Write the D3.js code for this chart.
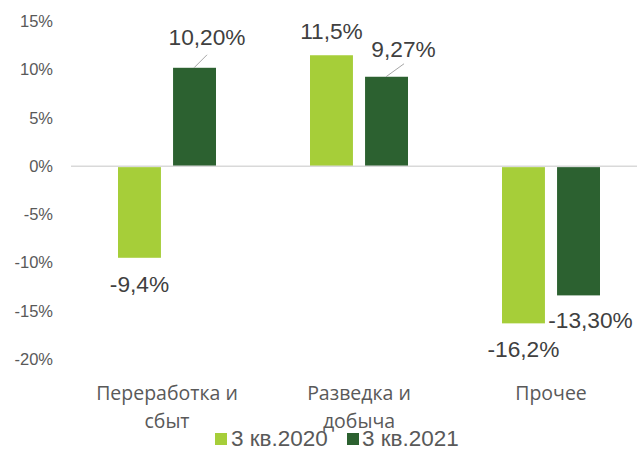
<!DOCTYPE html>
<html><head><meta charset="utf-8">
<script src="https://cdn.jsdelivr.net/npm/d3@7"></script>
<style>body{margin:0;background:#fff}svg{display:block}</style>
</head><body>
<script>
const categories = [["Переработка и","сбыт"],["Разведка и","добыча"],["Прочее"]];
const seriesNames = ["3 кв.2020","3 кв.2021"];
const values2020 = [-9.4, 11.5, -16.2];
const values2021 = [10.2, 9.27, -13.3];
const labels2020 = ["-9,4%","11,5%","-16,2%"];
const labels2021 = ["10,20%","9,27%","-13,30%"];
const yTicks = [15,10,5,0,-5,-10,-15,-20];
const colors = ["#A6CE39","#2C6130"];

const W=637,H=451;
const svg=d3.select("body").append("svg").attr("width",W).attr("height",H);
const y=d3.scaleLinear().domain([-20,15]).range([359,21.5]);
const x0=d3.scaleBand().domain(d3.range(3)).range([71,647]).paddingInner(0).paddingOuter(0);
const x1=d3.scaleBand().domain([0,1]).range([0,98]).paddingInner(0.22);
const gOff=(x0.bandwidth()-98)/2;

// y axis labels
const yAxis=d3.axisLeft(y).tickValues(yTicks).tickSize(0).tickPadding(0).tickFormat(d=>d+"%");
const ga=svg.append("g").attr("transform","translate(53,0)").call(yAxis);
ga.select(".domain").remove();
ga.selectAll("text").attr("font-family","Liberation Sans, Arial").attr("font-size",16.5).attr("fill","#595959");

const series=[values2020,values2021];
series.forEach((vals,s)=>{
  svg.append("g").selectAll("rect").data(vals).join("rect")
    .attr("x",(d,i)=>x0(i)+gOff+x1(s))
    .attr("width",x1.bandwidth())
    .attr("y",d=>d>=0?y(d):y(0)+1)
    .attr("height",d=>Math.abs(y(d)-y(0)))
    .attr("fill",colors[s]);
});
// zero line
svg.append("line").attr("x1",71).attr("x2",W).attr("y1",y(0)).attr("y2",y(0))
  .attr("stroke","#d9d9d9").attr("stroke-width",1.5);

// data labels
const lf="Liberation Sans, Arial";
function lab(text,xx,yy){
  svg.append("text").attr("x",xx).attr("y",yy).attr("text-anchor","middle")
    .attr("font-family",lf).attr("font-size",22.7).attr("fill","#404040").text(text);
}
const bx=(i,s)=>x0(i)+gOff+x1(s);
const bw=x1.bandwidth();
lab(labels2020[0], bx(0,0)+bw/2, y(values2020[0])+35);
lab(labels2021[0], bx(0,1)+bw/2+12.5, y(values2021[0])-23);
lab(labels2020[1], bx(1,0)+bw/2, y(values2020[1])-16);
lab(labels2021[1], bx(1,1)+bw/2+17, y(values2021[1])-20);
lab(labels2020[2], bx(2,0)+bw/2, y(values2020[2])+35);
lab(labels2021[2], bx(2,1)+bw/2+12, y(values2021[2])+34);
// leader lines
svg.append("line").attr("x1",bx(0,1)+bw/2-0.5).attr("y1",y(values2021[0])).attr("x2",bx(0,1)+bw/2+12.5).attr("y2",y(values2021[0])-13)
  .attr("stroke","#a6a6a6").attr("stroke-width",1);
svg.append("line").attr("x1",bx(1,1)+bw/2-0.5).attr("y1",y(values2021[1])).attr("x2",bx(1,1)+bw/2+17.5).attr("y2",y(values2021[1])-13)
  .attr("stroke","#a6a6a6").attr("stroke-width",1);

// category labels
categories.forEach((lines,i)=>{
  const cx=x0(i)+x0.bandwidth()/2;
  lines.forEach((t,k)=>{
    svg.append("text").attr("x",cx).attr("y",400+k*28).attr("text-anchor","middle")
      .attr("font-family","Open Sans, Noto Sans").attr("font-size",19.5).attr("fill","#595959").text(t);
  });
});

// legend
const lg=[{x:215,tx:231},{x:347,tx:362}];
seriesNames.forEach((n,s)=>{
  svg.append("rect").attr("x",lg[s].x).attr("y",433).attr("width",12).attr("height",12).attr("fill",colors[s]);
  svg.append("text").attr("x",lg[s].tx).attr("y",446).attr("font-family",lf).attr("font-size",22.5)
    .attr("fill","#595959").text(n);
});
</script>
</body></html>
